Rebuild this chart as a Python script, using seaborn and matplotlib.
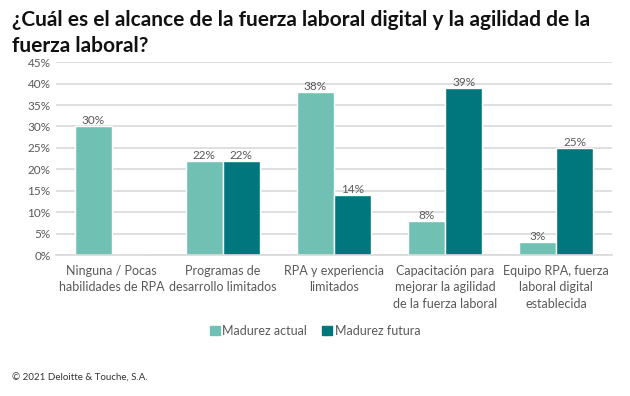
import pandas as pd
import matplotlib.pyplot as plt
import seaborn as sns

sns.set_theme(style="white")
plt.rcParams["font.family"] = ["Lato", "DejaVu Sans"]

categorias = ["Ninguna / Pocas\nhabilidades de RPA",
              "Programas de\ndesarrollo limitados",
              "RPA y experiencia\nlimitados",
              "Capacitación para\nmejorar la agilidad\nde la fuerza laboral",
              "Equipo RPA, fuerza\nlaboral digital\nestablecida"]
actual = [30, 22, 38, 8, 3]
futura = [0, 22, 14, 39, 25]
series = ["Madurez actual", "Madurez futura"]
colores = ["#70C1B3", "#00777D"]

df = pd.DataFrame({
    "cat": categorias * 2,
    "valor": actual + futura,
    "serie": [series[0]] * 5 + [series[1]] * 5,
})

fig = plt.figure(figsize=(6.3, 3.96), dpi=100)
ax = fig.add_axes([0.089, 0.356, 0.882, 0.487])
sns.barplot(data=df, x="cat", y="valor", hue="serie", palette=colores,
            width=0.667, saturation=1, ax=ax, legend=False)

for cont, vals in zip(ax.containers, [actual, futura]):
    labels = [f"{v}%" if v > 0 else "" for v in vals]
    ax.bar_label(cont, labels=labels, padding=0, fontsize=8.5, color="#595959")

ax.set_ylim(0, 45)
ax.set_xlim(-0.5, 4.5)
ax.set_yticks(range(0, 50, 5))
ax.set_yticklabels([f"{t}%" for t in range(0, 50, 5)], fontsize=8.5, color="#595959")
ax.tick_params(axis="x", labelsize=9, labelcolor="#595959", length=0, pad=7)
for lbl in ax.get_xticklabels():
    lbl.set_linespacing(1.45)
ax.tick_params(axis="y", length=0, pad=4)
ax.yaxis.grid(True, color="#D9D9D9", linewidth=1.2)
ax.set_axisbelow(True)
for s in ["top", "right", "left"]:
    ax.spines[s].set_visible(False)
ax.spines["bottom"].set_color("#D9D9D9")
ax.spines["bottom"].set_linewidth(1.2)
ax.set_xlabel("")
ax.set_ylabel("")

handles = [plt.Rectangle((0, 0), 1, 1, color=c) for c in colores]
fig.legend(handles, series, loc="center", bbox_to_anchor=(0.5, 0.164), ncol=2,
           frameon=False, fontsize=9, handlelength=0.8, handleheight=0.8,
           handletextpad=0.2, columnspacing=1.2, labelcolor="#595959")

fig.text(0.019, 0.975, "¿Cuál es el alcance de la fuerza laboral digital y la agilidad de la\nfuerza laboral?",
         ha="left", va="top", fontsize=15, fontweight="bold", color="#111111", linespacing=1.4)
fig.text(0.019, 0.045, "© 2021 Deloitte & Touche, S.A.", ha="left", va="center",
         fontsize=7, color="#333333")

fig.savefig("out.png", dpi=100)
